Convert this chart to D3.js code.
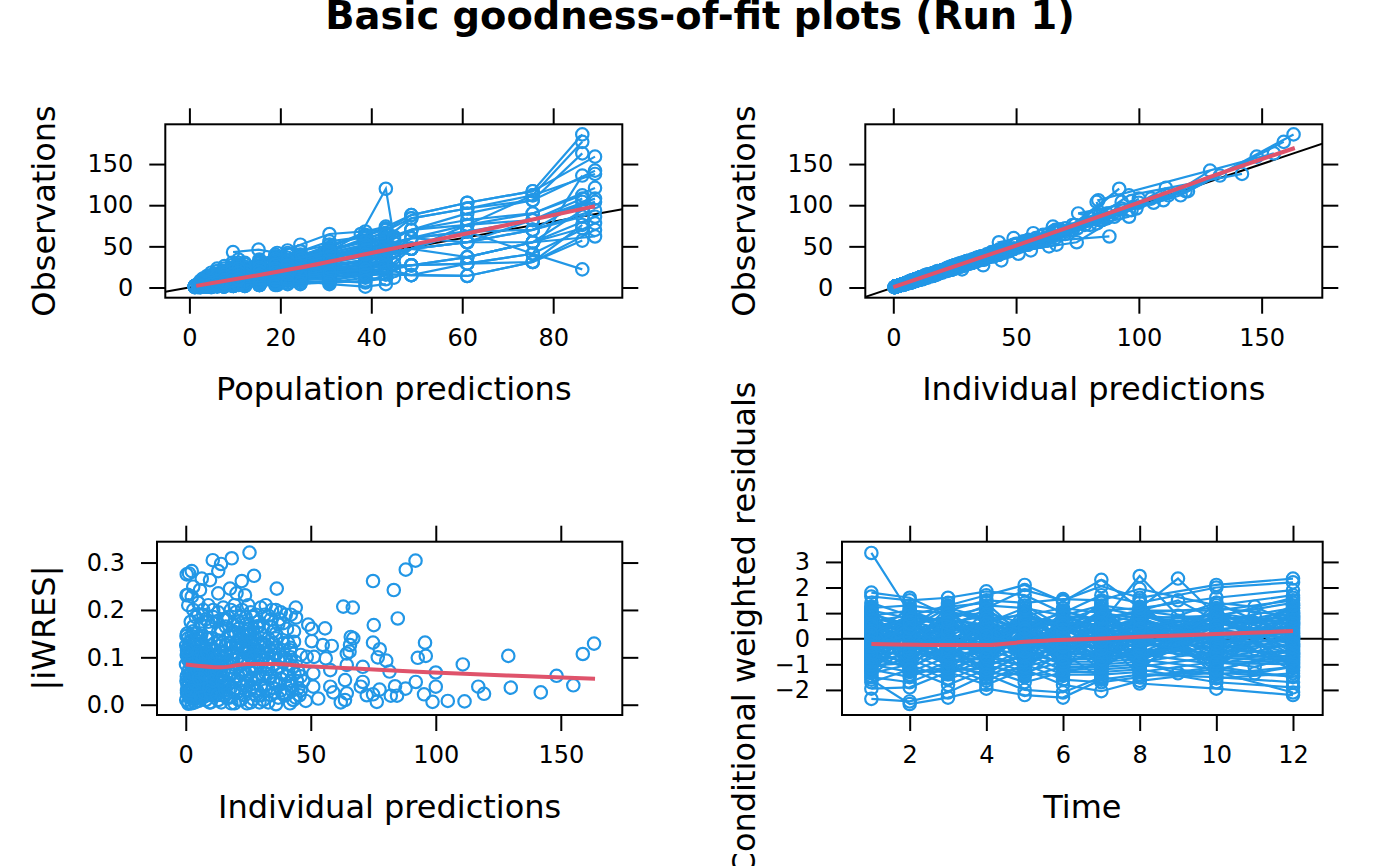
<!DOCTYPE html>
<html>
<head>
<meta charset="utf-8">
<script src="https://cdn.jsdelivr.net/npm/d3@7"></script>
<style>
	html, body { margin: 0; padding: 0; background: #fff; overflow: hidden; }
	text { font-family: "DejaVu Sans"; fill: #000; }
</style>
</head>
<body>
<svg id="chart" width="1400" height="866"></svg>
<script>
// population predictions per visit, one list per dose group
var predHighA = [9.6,15.2,19.3,24.4,30.8,38.7,48.8,61.1,75.5,86.4];
var predHighB = [9.6,15.2,19.3,24.4,30.8,43.2,48.8,61.1,75.5,89.2];
var predMidA = [4.8,7.6,9.7,12.2,15.4,19.3,24.4,30.8,38.7,43.2];
var predMidB = [4.8,7.6,9.7,12.2,15.4,19.3,24.4,30.8,38.7,45];
var predMidC = [4.8,7.6,9.7,12.2,15.4,19.3,24.4,30.8,37.7,43.2,45];
var predLow = [2.4,3.8,4.8,6.1,7.7,9.7,12.2,15.4,18.9,21.6];
var predLowest = [1.2,1.9,2.4,3,3.9,4.8,6.1,7.7,9.4,10.8];

// observations per subject
var obsHighA = [
	[22,30,37,44,52,62,88,103,117,186],
	[14,24,31,37,46,57,84,96,112,177],
	[18,21,28,34,42,52,70,90,106,163],
	[10,17,22,29,38,47,60,68,41,136],
	[12,16,25,30,37,44,70,82,90,112],
	[8,14,18,25,30,38,47,76,82,108],
	[9,13,16,22,26,31,47,55,70,104],
	[6,10,14,18,22,27,27,37,55,94],
	[5,8,12,15,20,24,60,68,70,86],
	[7,11,13,17,23,28,15,29,31,76],
	[4,7,10,13,17,20,27,29,41,22],
	[3,5,8,10,14,17,15,14,31,57],
	[6,9,11,15,18,21,47,55,55,72]
];
var obsHighB = [
	[43,46,42,52,65,70,88,103,117,159],
	[15,24,30,38,47,60,84,96,106,142],
	[12,20,26,32,40,54,70,76,112,138],
	[9,16,20,27,35,48,60,76,90,121],
	[10,14,20,25,30,42,47,68,82,108],
	[7,13,18,24,28,36,60,55,82,104],
	[8,12,15,20,24,30,47,55,70,94],
	[5,9,13,16,21,26,27,37,55,86],
	[4,7,9,12,16,20,27,29,41,78],
	[3,6,8,11,13,16,15,14,31,70],
	[5,8,11,14,18,22,47,37,55,62]
];
var obsMidA = [
	[6,12,18,22,30,34,40,48,68,74],
	[4,9,14,18,22,28,34,44,60,66],
	[3,7,10,14,18,22,28,36,52,60],
	[2,5,8,10,14,18,24,30,42,50],
	[2,4,6,8,11,14,18,24,34,40],
	[1,3,4,6,8,10,12,16,22,30],
	[1,2,3,4,5,6,8,4,1,4],
	[1,1,2,3,3,4,5,6,12,10],
	[4,8,12,16,24,26,38,52,64,70],
	[3,6,12,12,20,30,32,40,48,56],
	[2,6,9,13,16,20,26,34,38,46],
	[1,4,5,7,10,12,16,20,28,34],
	[1,2,4,5,6,8,10,12,18,24],
	[0.5,1,2,2,3,3,4,8,6,16],
	[5,11,15,19,27,32,44,56,62,72],
	[3,7,11,15,19,25,35,46,56,64],
	[2,5,7,11,13,17,22,28,44,52],
	[1,3,6,8,9,13,15,22,30,42],
	[1,2,3,4,4,7,9,10,14,26]
];
var obsMidB = [
	[5,10,14,20,24,30,36,44,56,62],
	[3,6,10,14,18,24,30,38,46,54],
	[2,4,6,9,12,15,20,26,34,44],
	[1,3,4,5,7,9,12,15,26,36],
	[1,2,3,3,4,5,6,8,16,20],
	[4,8,13,17,22,27,33,42,52,58],
	[2,5,8,11,15,20,26,32,40,48],
	[1,3,5,7,9,11,14,18,22,28],
	[1,1,2,2,3,4,5,6,8,12]
];
var obsMidC = [
	[5,10,15,20,26,30,36,44,65,120,60]
];
var obsLow = [
	[3,6,9,13,18,22,28,32,38,42],
	[2,5,7,10,14,18,22,26,32,36],
	[2,4,6,8,11,14,18,20,26,30],
	[1,3,5,6,9,11,15,17,20,24],
	[1,2,3,5,6,8,10,13,16,18],
	[1,2,2,3,4,5,7,9,11,13],
	[1,1,1,2,3,3,4,5,6,8],
	[0.5,1,1,1,2,2,2,3,3,4],
	[3,7,10,14,20,24,30,34,40,45],
	[2,5,8,11,16,20,25,29,35,40],
	[2,4,7,9,12,16,20,24,28,33],
	[1,3,4,7,10,13,16,19,23,27],
	[1,2,4,6,8,10,12,15,18,21],
	[1,2,3,4,5,6,8,11,13,16],
	[1,1,2,3,3,4,6,7,9,10],
	[0.5,1,1,2,2,3,3,4,5,6]
];
var obsLowest = [
	[2,4,8,11,14,18,23,26,30,34],
	[2,3,5,7,10,12,15,18,22,26],
	[1,2,4,6,8,10,12,14,18,20],
	[1,2,3,4,6,7,9,11,14,16],
	[1,1,2,3,4,5,6,8,10,12],
	[1,1,2,2,3,3,4,5,7,8],
	[0.5,1,1,1,2,2,3,3,4,5],
	[0.5,0.5,1,1,1,1,2,2,2,3],
	[2,4,7,10,12,15,20,23,27,30],
	[1,3,6,8,11,13,17,20,24,28],
	[1,3,4,6,9,11,14,16,20,23],
	[1,2,3,5,7,9,10,13,16,18],
	[1,2,3,3,5,6,8,9,12,14],
	[1,1,1,2,2,4,5,6,8,10]
];

// individual predictions, same subjects and order as the observations
var ipredHighA = [
	[22,31,36,46,50,64,84,100,120,163],
	[15,23,32,36,48,55,80,99,117,159],
	[17,22,27,35,41,54,73,87,83.5,155],
	[10,16,23,28,40,45,49,66,51,133],
	[12,17,24,31,36,46,68,85,75.3,112],
	[8,13,19,24,31,37,49,74,84,100],
	[9,14,15,23,25,32,45,43,68,93],
	[6,10,15,17,23,26,36.6,35,74.7,96],
	[5,8,13,14,21,23,62,65,72,90],
	[7,11,12,18,22,29,17,27,33,80],
	[4,7,10,14,16,21,25,31,39,28],
	[3,5,8,10,15,16,17,13,33,60],
	[6,9,12,14,19,20,49,53,57,75]
];
var ipredHighB = [
	[40,47,41,54,63,73,85,106,119,148],
	[15,23,31,36,49,58,87,93,110,129],
	[12,21,25,33,39,56,68,78,96,142],
	[9,15,21,26,36,46,63,73,92,111],
	[10,15,19,26,29,44,45,70,84,105],
	[7,12,19,23,29,34,62,53,85,82.8],
	[8,13,14,21,23,32,45,57,68,97],
	[5,9,12,17,20,27,25,39,53,96],
	[4,7,10,11,17,19,29,27,43,83],
	[3,6,8,12,12,17,13,16,29,66],
	[5,8,12,13,19,21,49,35,57,88]
];
var ipredMidA = [
	[6,12,17,23,29,35,42,46,66,65],
	[4,9,15,17,23,27,36,43,62,57],
	[3,7,10,15,17,23,27,37,66.5,63],
	[2,5,8,10,15,17,25,29,44,63.4],
	[2,4,6,8,12,13,19,23,36,38],
	[1,3,4,6,8,11,11,17,21,32],
	[1,2,3,4,5,6,9,5,1,5],
	[1,1,2,3,3,4,5,7,11,12],
	[4,8,13,15,25,24,41,49,68,67],
	[3,6,11,13,19,32,30,43,45,60],
	[2,6,10,12,17,19,28,32,41,43],
	[1,4,5,8,9,13,15,22,26,37],
	[1,2,4,5,7,7,11,11,20,22],
	[0.5,1,2,2,3,4,4,9,7,14],
	[5,11,16,18,28,30,46,53,65,70],
	[3,7,12,14,20,23,37,44,59,61],
	[2,5,8,10,14,16,24,26,47,49],
	[1,3,6,9,8,14,14,24,28,45],
	[1,2,3,4,5,6,10,9,16,24]
];
var ipredMidB = [
	[5,10,15,19,25,29,38,43,58,60],
	[3,6,10,15,17,25,29,40,44,56],
	[2,4,6,9,13,14,21,25,36,42],
	[1,3,4,5,7,10,11,16,25,38],
	[1,2,3,3,4,5,7,7,18,18],
	[4,8,14,16,24,25,35,40,55,55],
	[2,5,9,10,16,19,28,30,43,45],
	[1,3,5,7,10,10,15,17,24,26],
	[1,1,2,2,3,4,5,7,8,14]
];
var ipredMidC = [
	[5,10,14,21,25,32,35,47,70,92,66]
];
var ipredLow = [
	[3,6,9,14,17,23,27,34,36,44],
	[2,5,7,10,15,17,23,25,34,34],
	[2,4,6,8,11,15,17,21,25,32],
	[1,3,5,6,9,12,14,18,19,25],
	[1,2,3,5,6,8,11,12,17,17],
	[1,2,2,3,4,5,7,10,10,14],
	[1,1,1,2,3,3,4,5,6,9],
	[0.5,1,1,1,2,2,2,3,3,4],
	[3,7,9,15,19,26,28,37,38,56],
	[2,5,8,12,15,21,24,31,33,43],
	[2,4,7,9,13,15,21,23,30,44],
	[1,3,4,7,10,14,15,20,22,29],
	[1,2,4,6,8,11,11,16,17,22],
	[1,2,3,4,5,6,9,10,14,15],
	[1,1,2,3,3,4,6,8,9,11],
	[0.5,1,1,2,2,3,3,4,5,7]
];
var ipredLowest = [
	[2,4,8,12,13,19,22,28,29,36],
	[2,3,5,7,11,11,16,17,24,25],
	[1,2,4,6,8,11,11,15,17,21],
	[1,2,3,4,6,8,8,12,13,17],
	[1,1,2,3,4,5,7,8,11,11],
	[1,1,2,2,3,3,4,6,7,9],
	[0.5,1,1,1,2,2,3,3,4,5],
	[0.5,0.5,1,1,1,1,2,2,2,3],
	[2,4,7,11,11,16,19,25,26,32],
	[1,3,6,8,12,12,18,19,26,27],
	[1,3,4,6,9,12,13,17,19,25],
	[1,2,3,5,7,10,9,14,15,19],
	[1,2,3,3,5,6,9,8,13,13],
	[1,1,1,2,2,4,5,7,8,11]
];

// |iWRES| scatter
var iwresX = [
	163.3,158.8,155,148.3,142,129,130,119.3,117,111.5,104.8,110.8,100,100,98.7,95.7,96,92.8,91.9,88,
	84.8,83.2,74.9,75.2,74.9,77.6,76.8,80.2,81.5,92,95.3,87.9,83.7,82,84.5,76.4,77.5,63,66.8,70.8,
	70.8,72.4,74.9,70,63.7,64.4,66,67,65.7,65.5,64.4,64.4,63.7,62,58.4,55.7,54.8,56,57.8,57.8,
	59,49,50.4,50.4,51.3,48.4,51,51,53,48,44,44.1,43.3,43.3,41.7,36.4,36.1,36.1,41.7,25.5,
	18.4,10.8,14.1,13,2.4,0.4,1.3,27.3,22.4,9.7,6.4,17.7,3,5.7,13,0.3,2.4,20.3,23.7,0.8,
	30,32,36,26,28,33,38,40,25,29,34,37,31,27,35,39,42,24,30,36,
	18,20,22,24,26,28,30,19,21,23,25,27,29,18,20,22,24,26,28,30,
	32,34,36,38,40,42,44,46,33,35,37,39,41,43,45,32,34,38,42,46,
	30,32,34,36,38,40,42,44,46,47,31,33,35,37,39,41,43,45,28,26,
	1,3,5,7,9,11,13,15,17,2,4,6,8,10,12,14,16,0.5,3,6,
	0.3,0.8,1.5,2,2.5,3,3.5,4,4.5,5,5.5,6,6.5,7,7.5,8,8.5,9,9.5,10,
	0.2,0.5,1,1.2,1.8,2.2,2.8,3.2,3.8,4.2,4.8,5.2,5.8,6.2,6.8,7.2,7.8,8.2,8.8,9.2,
	0.1,0.4,0.7,0.9,1.1,1.4,1.6,1.9,2.1,2.4,2.6,2.9,3.1,3.4,3.6,3.9,4.1,4.4,4.6,4.9,
	10,10.5,11,11.5,12,12.5,13,13.5,14,14.5,15,15.5,16,16.5,17,17.5,18,18.5,19,19.5,
	20,20.5,21,21.5,22,22.5,23,23.5,24,24.5,25,25.5,26,26.5,27,27.5,28,28.5,29,29.5,
	10.2,11.2,12.2,13.2,14.2,15.2,16.2,17.2,18.2,19.2,20.2,21.2,22.2,23.2,24.2,25.2,30,31,33,35,
	0.6,1.3,0.2,2,0.9,3,1.6,2.6,0.4,3.5,5,6,7,8,9,7.5,6.5,5.5,8.5,9.5,
	0.5,1,1.5,2,2.5,3,3.5,4,4.5,5,5.5,6,6.5,7,7.5,8,8.5,9,9.5,10,
	10.5,11,11.5,12,12.5,13,13.5,14,14.5,15,15.5,16,16.5,17,17.5,18,18.5,19,19.5,20,
	20.5,21,21.5,22,22.5,23,23.5,24,24.5,25,25.5,26,26.5,27,27.5,28,28.5,29,29.5,30,
	30.5,31.5,32.5,33.5,34.5,35.5,36.5,37.5,38.5,39.5,40.5,41.5,42.5,43.5,44.5,45.5,2.3,4.3,6.3,8.3,
	0.3,1.1,1.9,2.7,3.5,4.3,5.1,5.9,6.7,7.5,8.3,9.1,9.9,10.7,11.5,12.3,13.1,13.9,14.7,15.5,
	0.5,1.3,2.1,2.9,3.7,4.5,5.3,6.1,6.9,7.7,8.5,9.3,10.1,10.9,11.7,12.5,13.3,14.1,14.9,15.7,
	16,18,19.5,21,22.5,24,25.5,27,28.5,30,31.5,33,34.5,36,37.5,39,40.5,42,31,34,
	3,5,7,9,11,13,15,17,19,21,23,25,27,29,31,33,35,37,39,41
];
var iwresY = [
	.129,.107,.041,.061,.026,.103,.036,.023,.038,.007,.008,.085,.068,.038,.006,.131,.103,.099,.304,.285,
	.182,.242,.261,.168,.131,.117,.1,.093,.07,.048,.022,.034,.039,.019,.019,.006,.032,.207,.205,.08,
	.048,.02,.022,.038,.052,.084,.143,.14,.126,.112,.108,.024,.01,.005,.124,.161,.126,.098,.073,.038,
	.026,.169,.16,.134,.101,.101,.066,.038,.013,.008,.205,.184,.155,.133,.115,.245,.14,.001,.003,.321,
	.309,.305,.297,.282,.282,.275,.277,.272,.261,.263,.266,.245,.249,.242,.235,.231,.228,.235,.231,.232,
	.205,.21,.2,.195,.19,.188,.195,.19,.21,.175,.18,.17,.165,.16,.155,.172,.19,.155,.15,.15,
	.2,.195,.185,.17,.15,.14,.13,.17,.16,.15,.135,.125,.115,.13,.12,.14,.11,.1,.105,.095,
	.125,.115,.105,.1,.095,.1,.09,.105,.09,.085,.08,.09,.075,.08,.07,.065,.06,.055,.05,.06,
	.04,.03,.02,.045,.03,.02,.04,.015,.03,.05,.01,.005,.035,.015,.025,.045,.01,.035,.02,.005,
	.21,.2,.215,.19,.21,.2,.195,.205,.185,.175,.185,.17,.18,.165,.175,.16,.165,.15,.155,.145,
	.145,.12,.13,.105,.115,.09,.125,.1,.135,.08,.11,.095,.13,.07,.105,.12,.085,.14,.1,.125,
	.01,.03,.005,.05,.02,.07,.04,.012,.06,.025,.045,.008,.065,.03,.015,.055,.04,.075,.02,.05,
	.085,.06,.04,.095,.002,.075,.015,.055,.085,.003,.033,.1,.02,.07,.005,.04,.09,.015,.03,.06,
	.005,.045,.09,.02,.115,.06,.01,.135,.08,.03,.1,.05,.125,.015,.07,.09,.035,.11,.055,.003,
	.075,.025,.1,.05,.01,.085,.04,.115,.065,.003,.09,.03,.055,.075,.012,.045,.08,.03,.06,.005,
	.14,.07,.035,.095,.005,.07,.09,.045,.003,.085,.13,.01,.065,.095,.04,.11,.08,.06,.075,.05,
	.11,.1,.125,.135,.14,.015,.065,.05,.105,.115,.025,.1,.035,.01,.03,.09,.115,.14,.06,.005,
	.025,.07,.11,.015,.05,.13,.06,.08,.11,.015,.07,.045,.09,.11,.035,.1,.065,.11,.06,.085,
	.115,.025,.13,.08,.03,.105,.055,.125,.1,.02,.085,.04,.105,.13,.015,.12,.065,.095,.03,.15,
	.125,.06,.145,.03,.12,.07,.02,.135,.05,.12,.07,.13,.035,.1,.075,.115,.055,.09,.125,.02,
	.1,.04,.11,.055,.1,.025,.075,.045,.065,.02,.06,.085,.03,.065,.05,.02,.145,.15,.15,.14,
	.05,.045,.09,.035,.08,.02,.1,.075,.055,.025,.035,.095,.04,.105,.065,.1,.035,.065,.045,.11,
	.115,.025,.03,.065,.045,.075,.055,.015,.1,.065,.11,.035,.025,.05,.095,.02,.075,.11,.06,.03,
	.18,.15,.21,.175,.2,.185,.16,.185,.165,.15,.19,.14,.2,.12,.18,.13,.16,.12,.13,.165,
	.165,.19,.2,.175,.185,.155,.18,.145,.155,.13,.125,.145,.14,.165,.11,.12,.13,.095,.115,.13
];

// conditional weighted residuals, most subjects skip times 9 and 11
var cwresTimes = [1,2,3,4,5,6,7,8,10,12];
var cwresRows = [
	[1.8,1.6,0.9,1.2,1.9,1.5,2.05,1.6,2.1,2.35],
	[1.65,1.5,1.6,1.85,1.7,1.0,1.7,1.4,2.0,2.2],
	[1.4,0.9,1.3,1.7,2.1,1.45,2.3,1.2,1.6,1.9],
	[1.2,1.3,1.1,1.5,1.4,1.55,1.5,1.95,1.3,1.7],
	[1.1,0.8,0.7,1.3,1.2,0.9,1.3,1.1,1.1,1.5],
	[0.9,1.1,1.0,0.8,0.9,1.2,1.0,0.8,0.9,1.4],
	[0.8,0.5,0.9,1.0,0.6,0.7,1.2,0.9,0.7,1.2],
	[0.7,0.9,0.4,0.6,1.0,0.4,0.8,1.0,1.2,0.9],
	[0.6,0.2,0.6,0.9,0.3,0.8,0.5,0.6,0.5,1.1],
	[0.5,0.7,0.3,0.4,0.7,0.2,0.9,0.3,0.8,0.8],
	[0.4,0.1,0.8,0.2,0.5,0.6,0.3,0.7,0.3,1.0],
	[0.3,0.6,0.1,0.7,0.1,0.3,0.6,0.1,0.6,0.6],
	[0.2,-0.1,0.5,0,0.8,-0.1,0.2,0.5,0,0.7],
	[0.1,0.4,-0.2,0.3,-0.1,0.5,-0.2,0.2,0.4,0.4],
	[0,-0.3,0.2,-0.2,0.4,-0.4,0.1,-0.1,0.2,0.5],
	[-0.1,0.2,-0.4,0.1,-0.3,0.1,-0.4,0.4,-0.2,0.3],
	[-0.2,-0.5,0,-0.5,0.2,-0.2,0.4,-0.3,0.1,0.2],
	[-0.3,0,-0.6,-0.1,-0.5,0,-0.1,0,-0.4,0.1],
	[-0.4,-0.7,-0.1,-0.7,0,-0.6,-0.6,-0.5,-0.1,-0.1],
	[-0.5,-0.2,-0.8,-0.3,-0.7,-0.3,-0.3,-0.2,-0.6,0],
	[-0.6,-0.9,-0.3,-0.9,-0.2,-0.8,-0.8,-0.7,-0.3,-0.3],
	[-0.7,-0.4,-1.0,-0.4,-0.9,-0.5,-0.5,-0.4,-0.8,-0.2],
	[-0.8,-1.1,-0.5,-1.1,-0.4,-1.0,-1.0,-0.9,-0.5,-0.5],
	[-0.9,-0.6,-1.2,-0.6,-1.1,-0.7,-0.7,-0.6,-1.0,-0.4],
	[-1.0,-1.3,-0.7,-1.3,-0.6,-1.2,-1.2,-1.1,-0.7,-0.7],
	[-1.1,-0.8,-1.4,-0.8,-1.3,-0.9,-0.9,-0.8,-1.2,-0.6],
	[-1.2,-1.5,-0.9,-1.5,-0.8,-1.4,-1.4,-1.3,-0.9,-0.9],
	[-1.35,-1.0,-1.6,-1.0,-1.5,-1.1,-1.1,-1.0,-1.4,-1.1],
	[-1.5,-1.7,-1.1,-1.65,-1.0,-1.6,-1.7,-1.5,-1.1,-1.5],
	[-1.7,-1.2,-1.8,-1.2,-1.7,-1.3,-1.3,-1.2,-1.7,-1.9],
	[-1.95,-1.9,-1.3,-1.8,-1.2,-1.8,-2.05,-1.65,-1.3,-2.1],
	[-2.35,-2.45,-2.1,-1.4,-2.0,-2.1,-1.5,-1.75,-1.95,-2.2],
	[-1.6,-2.55,-2.3,-1.95,-2.2,-2.3,-1.6,-1.4,-1.5,-1.7],
	[0.25,0.65,-0.05,0.55,-0.35,0.75,0.15,0.85,0.55,0.75],
	[-0.25,0.35,0.65,-0.45,0.55,-0.15,0.65,-0.55,0.65,-0.25],
	[0.75,-0.15,0.45,0.15,-0.55,0.35,-0.25,0.65,-0.15,0.35],
	[-0.65,0.85,-0.35,0.65,0.15,-0.75,0.85,0.05,-0.35,0.85],
	[0.55,-0.65,0.75,-0.75,0.65,0.55,-0.75,0.35,0.95,-0.65],
	[-0.05,0.45,-0.75,0.35,-0.85,0.95,0.35,-0.85,0.25,0.15],
	[1.0,-0.85,0.25,-0.95,0.25,-0.95,-0.55,0.75,-0.75,-0.85],
	[-0.95,1.0,-0.95,0.85,-1.05,0.05,1.1,-0.05,1.05,-1.05],
	[0.35,-1.05,1.15,-0.25,0.85,-1.15,-1.05,0.95,-1.05,0.95],
	[-1.25,0.05,-0.25,1.1,-0.65,0.65,0.05,-1.05,0.35,-1.25],
	[0.15,1.2,-1.25,-1.15,1.1,-0.05,-1.25,1.25,-0.55,1.3],
	[1.25,-1.25,0.55,0.05,-1.25,1.1,0.7,-1.25,1.4,0.05],
	[-0.15,0.75,-0.55,-0.55,0.95,-1.35,-0.95,0.55,-1.25,-0.45],
	[-1.45,-0.25,1.25,1.4,0.05,0.25,1.4,-0.35,0.85,1.6],
	[0.95,-1.4,-1.1,-1.35,-1.4,-0.55,-1.55,1.5,-1.55,-1.35],
	[0.45,-0.45,0.85,-0.65,0.35,-0.25,0.55,-0.75,0.15,0.25],
	[-0.55,0.55,-0.15,0.75,-0.45,0.45,-0.35,0.85,-0.45,-0.55],
	[0.65,0.3,-0.45,-0.35,0.75,-0.85,0.25,0.15,0.75,-0.15],
	[-0.35,-0.75,0.35,0.45,-0.75,0.85,-0.65,-0.15,-0.65,0.55],
	[0.05,0.95,-0.65,-0.85,0.45,-0.45,0.75,0.45,-0.85,0.65],
	[-0.75,-0.05,0.95,0.25,-0.15,-0.65,-0.15,-0.65,0.45,-0.35],
	[0.85,-0.55,0.15,-0.05,0.65,0.15,-0.85,0.25,-0.25,-0.75],
	[-0.85,0.15,-0.85,0.95,-0.95,0.65,0.45,-0.95,1.0,0.05],
	[0.15,-0.35,0.05,-0.45,1.05,-0.05,-0.45,1.05,0.05,-0.95],
	[-0.45,0.65,0.75,0.55,-0.25,-1.05,0.95,0.65,-1.15,1.05],
	[1.05,0.25,-0.75,-1.05,-0.65,0.35,-1.15,-0.25,0.65,-0.05],
	[-1.05,-0.95,0.45,1.15,0.25,-0.25,0.55,0.95,-0.05,0.45],
	[0.35,0.85,-1.05,-0.15,0.55,1.0,0.1,-1.15,0.95,-1.15],
	[-0.25,-1.15,1.1,0.65,-1.15,0.05,-0.7,0.1,-0.75,0.75],
	[1.15,-0.7,-0.35,-1.25,0.85,-0.7,1.2,-0.45,1.15,-0.55],
	[-1.15,1.1,0.55,0.35,-0.55,-1.25,-1.35,1.15,-0.35,1.2],
	[0.6,-1.25,-1.3,-0.6,1.3,0.45,-0.05,-1.4,-1.35,-1.45],
	[-1.3,0.45,1.4,-1.05,-1.35,-1.45,1.0,0.25,0.35,0.0],
	[0.7,-0.25,-0.9,0.5,-0.3,1.05,-0.5,0.6,-0.6,0.9],
	[-0.7,0.75,0.2,-0.75,0.9,-0.5,0.35,-0.7,0.2,-0.6],
	[0.3,-1.0,0.6,0.95,-0.85,-0.15,-0.9,1.1,0.7,0.1],
	[-0.15,0.1,-1.15,-0.25,0.15,0.9,0.75,0.0,-0.95,-1.0],
	[0.95,0.55,0.1,-0.6,-0.1,-0.35,-0.3,-0.8,1.0,0.55],
	[-0.9,-0.3,0.95,0.3,0.6,-0.9,0.4,0.8,-0.1,-0.3],
	[0.1,-0.6,-0.6,0.8,-0.6,0.3,-1.1,-0.2,0.6,0.85],
	[-0.5,1.05,0.35,-0.95,0.75,0.7,0.85,0.35,-0.55,-0.8]
];
var cwresTimesFull = [1,2,3,4,5,6,7,8,9,10,11,12];
var cwresRowsFull = [
	[3.35,1.0,0.6,0.2,0.9,0.5,0.8,1.1,1.5,0.7,0.3,1.0],
	[1.0,0.4,1.2,0.8,0.3,1.1,0.6,2.45,0.9,1.4,1.25,0.6],
	[0.5,-0.4,0.3,0.6,1.2,0.2,1.1,1.2,2.35,0.9,0.6,1.3],
	[-0.3,0.6,-0.5,-0.2,0.4,-0.6,0.2,0.4,0.7,-0.2,-0.4,0.2],
	[-1.0,-0.5,-0.9,-0.7,-1.1,-0.3,-0.8,-0.5,-0.4,-0.9,-1.1,-0.7],
	[-0.6,-1.2,-0.2,-1.4,-0.5,-1.0,-0.4,-0.9,-1.35,-1.2,-1.35,-1.1],
	[0.2,0.9,0.7,0.1,-0.2,0.6,-0.1,-0.3,0.2,0.5,0.9,-0.2]
];

// loess trends
var smoothAx = [1.5,24.4,42.7,61,75.5,89.2];
var smoothAy = [2,24.3,45,65.6,82.6,98.8];
var smoothBx = [0,50,100,125,163.5];
var smoothBy = [0.5,51,103,130,169.5];
var smoothCx = [0,14.4,24.4,36.4,45.8,65.8,99,132,163.7];
var smoothCy = [.085,.079,.086,.086,.082,.077,.068,.061,.055];
var smoothDx = [1,3,4,5,7,8,10,12];
var smoothDy = [-.21,-.25,-.25,-.12,.01,.08,.18,.3];

var blue = "#2297E6", red = "#DF536B";
var tickLen = 16, circleR = 6.2, lineW = 2, markW = 2.2;

var svg = d3.select("#chart");
var clipId = 0;

svg.append("text")
	.attr("x", 700).attr("y", 29)
	.attr("text-anchor", "middle")
	.attr("font-size", 38.4)
	.attr("font-weight", "bold")
	.text("Basic goodness-of-fit plots (Run 1)");

// frame, lattice style ticks on all four sides and the two axis titles
var drawPanel = function(p) {
	var x = d3.scaleLinear().domain(p.xDomain).range([p.left, p.right]);
	var y = d3.scaleLinear().domain(p.yDomain).range([p.bottom, p.top]);

	var axes = [
		[d3.axisBottom(x).tickPadding(15), p.bottom, 0, p.xTicks, d3.format("d")],
		[d3.axisTop(x).tickFormat(""), p.top, 0, p.xTicks],
		[d3.axisLeft(y).tickPadding(16), 0, p.left, p.yTicks, p.yFmt || d3.format("d")],
		[d3.axisRight(y).tickFormat(""), 0, p.right, p.yTicks]
	];
	axes.forEach(function(a) {
		var ax = a[0].tickValues(a[3]).tickSizeOuter(0).tickSizeInner(tickLen);
		if (a[4]) ax.tickFormat(a[4]);
		var g = svg.append("g")
			.attr("class", "axis")
			.attr("transform", "translate(" + a[2] + "," + a[1] + ")")
			.call(ax);
		g.select(".domain").remove();
		g.selectAll("line").attr("stroke", "#000").attr("stroke-width", lineW);
		g.selectAll("text").attr("font-size", 24).attr("font-family", "DejaVu Sans");
	});

	clipId++;
	svg.append("clipPath").attr("id", "clip" + clipId)
		.append("rect")
		.attr("x", p.left).attr("y", p.top)
		.attr("width", p.right - p.left).attr("height", p.bottom - p.top);
	var plot = svg.append("g").attr("clip-path", "url(#clip" + clipId + ")");

	svg.append("rect")
		.attr("x", p.left).attr("y", p.top)
		.attr("width", p.right - p.left).attr("height", p.bottom - p.top)
		.attr("fill", "none").attr("stroke", "#000").attr("stroke-width", lineW);

	svg.append("text")
		.attr("x", (p.left + p.right) / 2).attr("y", p.xLabelY)
		.attr("text-anchor", "middle").attr("font-size", 32)
		.text(p.xLabel);
	svg.append("text")
		.attr("transform", "translate(" + p.yLabelX + "," + p.yLabelMid + ") rotate(-90)")
		.attr("text-anchor", "middle").attr("font-size", 32)
		.text(p.yLabel);

	return { plot: plot, x: x, y: y };
};

var drawIdentity = function(c, d) {
	c.plot.append("line")
		.attr("x1", c.x(d[0])).attr("y1", c.y(d[0]))
		.attr("x2", c.x(d[1])).attr("y2", c.y(d[1]))
		.attr("stroke", "#000").attr("stroke-width", lineW);
};

// one polyline with open circles for each subject
var drawSubject = function(c, xs, ys) {
	var pts = ys.map(function(v, i) { return [xs[i], v]; });
	c.plot.append("path")
		.attr("d", d3.line().x(function(d) { return c.x(d[0]); }).y(function(d) { return c.y(d[1]); })(pts))
		.attr("fill", "none").attr("stroke", blue).attr("stroke-width", markW);
	drawCircles(c, pts);
};

var drawCircles = function(c, pts) {
	c.plot.selectAll(null)
		.data(pts)
		.enter()
		.append("circle")
		.attr("cx", function(d) { return c.x(d[0]); })
		.attr("cy", function(d) { return c.y(d[1]); })
		.attr("r", circleR)
		.attr("fill", "none").attr("stroke", blue).attr("stroke-width", markW);
};

var drawSmooth = function(c, xs, ys) {
	var pts = xs.map(function(v, i) { return [v, ys[i]]; });
	c.plot.append("path")
		.attr("d", d3.line().x(function(d) { return c.x(d[0]); }).y(function(d) { return c.y(d[1]); })
			.curve(d3.curveMonotoneX)(pts))
		.attr("fill", "none").attr("stroke", red).attr("stroke-width", 4);
};

var obsTicks = [0, 50, 100, 150];
var groups = [
	[predHighA, obsHighA, ipredHighA],
	[predHighB, obsHighB, ipredHighB],
	[predMidA, obsMidA, ipredMidA],
	[predMidB, obsMidB, ipredMidB],
	[predMidC, obsMidC, ipredMidC],
	[predLow, obsLow, ipredLow],
	[predLowest, obsLowest, ipredLowest]
];

// top left
var a = drawPanel({
	left: 165.3, right: 622.3, top: 124.3, bottom: 297.7,
	xDomain: [-5.3, 95.2], yDomain: [-12.4, 198.3],
	xTicks: [0, 20, 40, 60, 80], yTicks: obsTicks,
	xLabel: "Population predictions", xLabelY: 400,
	yLabel: "Observations", yLabelX: 55, yLabelMid: 211
});
drawIdentity(a, [-5.3, 95.2]);
groups.forEach(function(g) {
	g[1].forEach(function(row) { drawSubject(a, g[0], row); });
});
drawSmooth(a, smoothAx, smoothAy);

// top right
var b = drawPanel({
	left: 865.3, right: 1322.3, top: 124.3, bottom: 297.7,
	xDomain: [-11.4, 174.7], yDomain: [-12.4, 198.3],
	xTicks: [0, 50, 100, 150], yTicks: obsTicks,
	xLabel: "Individual predictions", xLabelY: 400,
	yLabel: "Observations", yLabelX: 755, yLabelMid: 211
});
drawIdentity(b, [-12.4, 175]);
groups.forEach(function(g) {
	g[2].forEach(function(row, i) { drawSubject(b, row, g[1][i]); });
});
drawSmooth(b, smoothBx, smoothBy);

// bottom left
var c = drawPanel({
	left: 157, right: 622.3, top: 541.7, bottom: 715,
	xDomain: [-11.5, 174.6], yDomain: [-0.0217, 0.344],
	xTicks: [0, 50, 100, 150], yTicks: [0, 0.1, 0.2, 0.3], yFmt: d3.format(".1f"),
	xLabel: "Individual predictions", xLabelY: 818,
	yLabel: "|iWRES|", yLabelX: 55, yLabelMid: 628
});
drawCircles(c, iwresX.map(function(v, i) { return [v, iwresY[i]]; }));
drawSmooth(c, smoothCx, smoothCy);

// bottom right
var d = drawPanel({
	left: 842, right: 1322.7, top: 541.7, bottom: 715,
	xDomain: [0.234, 12.775], yDomain: [-2.98, 3.79],
	xTicks: [2, 4, 6, 8, 10, 12], yTicks: [-2, -1, 0, 1, 2, 3],
	xLabel: "Time", xLabelY: 818,
	yLabel: "Conditional weighted residuals", yLabelX: 755, yLabelMid: 628
});
d.plot.append("line")
	.attr("x1", d.x(0.234)).attr("y1", d.y(0))
	.attr("x2", d.x(12.775)).attr("y2", d.y(0))
	.attr("stroke", "#000").attr("stroke-width", lineW);
cwresRows.forEach(function(row) { drawSubject(d, cwresTimes, row); });
cwresRowsFull.forEach(function(row) { drawSubject(d, cwresTimesFull, row); });
drawSmooth(d, smoothDx, smoothDy);
</script>
</body>
</html>
